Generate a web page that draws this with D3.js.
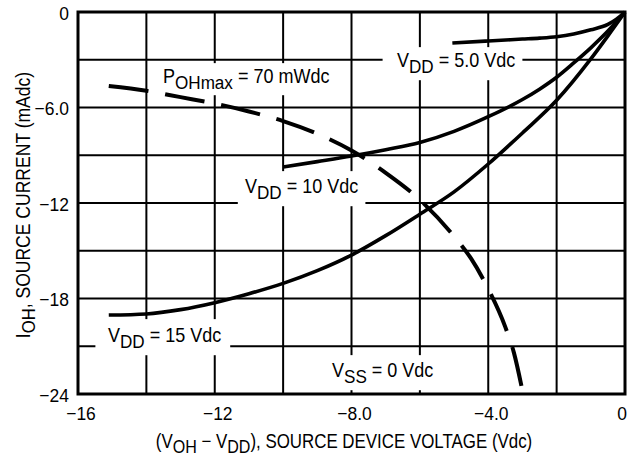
<!DOCTYPE html>
<html>
<head>
<meta charset="utf-8">
<script src="https://cdn.jsdelivr.net/npm/d3@7"></script>
<style>
  body { margin: 0; background: #fff; }
  svg { display: block; }
  text { font-family: "Liberation Sans", Arial, sans-serif; fill: #000; }
</style>
</head>
<body>
<svg id="chart" width="628" height="461"></svg>
<script>
// ---- data ----
const xTicks = [-16, -12, -8, -4, 0];
const xTickLabels = ["\u221216", "\u221212", "\u22128.0", "\u22124.0", "0"];
const yTicks = [0, -6, -12, -18, -24];
const yTickLabels = ["0", "\u22126.0", "\u221212", "\u221218", "\u221224"];

const vdd5X = [-5.05, -4.0, -3.0, -2.5, -2.0, -1.5, -1.0, -0.5, -0.25, 0];
const vdd5Y = [-1.95, -1.82, -1.7, -1.64, -1.55, -1.38, -1.12, -0.78, -0.45, 0];

const vdd10X = [-10.0, -9.0, -8.0, -7.0, -6.0, -5.0, -4.0, -3.0, -2.5, -2.0, -1.5, -1.0, -0.5, 0];
const vdd10Y = [-9.74, -9.4, -9.05, -8.65, -8.2, -7.5, -6.58, -5.5, -4.85, -4.1, -3.2, -2.25, -1.2, 0];

const vdd15X = [-15.1, -14.0, -13.0, -12.0, -11.0, -10.0, -9.0, -8.0, -7.0, -6.0, -5.0, -4.0, -3.0, -2.0, -1.0, -0.5, 0];
const vdd15Y = [-19.04, -18.97, -18.7, -18.26, -17.7, -17.05, -16.25, -15.27, -14.05, -12.7, -11.3, -9.55, -7.6, -5.55, -2.95, -1.5, 0];

const pohX = [-15.1, -14.0, -13.0, -12.0, -11.0, -10.0, -9.0, -8.0, -7.0, -6.0, -5.0, -4.5, -4.0, -3.5, -3.25, -3.0];
const pohY = [-4.65, -4.95, -5.35, -5.75, -6.25, -6.85, -7.65, -8.7, -10.1, -11.8, -14.1, -15.5, -17.4, -19.8, -21.4, -23.8];

// ---- layout ----
const svg = d3.select("#chart");
const L = 78, T = 12, R = 625, B = 394;
const x = d3.scaleLinear().domain([-16, 0]).range([L, R]);
const y = d3.scaleLinear().domain([0, -24]).range([T, B]);

// condensed text helper (the reference face is a condensed grotesque)
function ctext(parent, xp, yp, sx, size, anchor, rot) {
  const g = parent.append("g")
    .attr("transform", `translate(${xp},${yp})` + (rot ? ` rotate(${rot})` : "") + ` scale(${sx},1)`);
  const t = g.append("text").attr("x", 0).attr("y", 0).attr("font-size", size)
    .attr("text-anchor", anchor || "start");
  return {g, t};
}

// grid
const grid = svg.append("g");
grid.selectAll("line.v").data(d3.range(-14, 0, 2)).enter().append("line")
  .attr("x1", d => x(d)).attr("x2", d => x(d)).attr("y1", T).attr("y2", B)
  .attr("stroke", "#000").attr("stroke-width", 2);
grid.selectAll("line.h").data(d3.range(-3, -24, -3)).enter().append("line")
  .attr("y1", d => y(d)).attr("y2", d => y(d)).attr("x1", L).attr("x2", R)
  .attr("stroke", "#000").attr("stroke-width", 2);

// in-plot labels with white background
const labelLayer = svg.append("g");
function label(xp, yp, parts, padL, padR, padT, padB) {
  const {g, t} = ctext(labelLayer, xp, yp, 0.9, 20);
  const rect = g.insert("rect", "text").attr("fill", "#fff");
  parts.forEach(p => {
    const ts = t.append("tspan").text(p.t);
    if (p.sub) ts.attr("dy", 6).attr("font-size", 19);
    if (p.up) ts.attr("dy", -6);
  });
  const bb = t.node().getBBox();
  rect.attr("x", bb.x - padL).attr("y", bb.y - padT)
      .attr("width", bb.width + padL + padR).attr("height", bb.height + padT + padB);
}
label(163, 83, [{t: "P"}, {t: "OHmax", sub: true}, {t: " = 70 mWdc", up: true}], 6, 6, 2, 2);
label(397, 67, [{t: "V"}, {t: "DD", sub: true}, {t: " = 5.0 Vdc", up: true}], 16, 8, 2, 3);
label(245, 193, [{t: "V"}, {t: "DD", sub: true}, {t: " = 10 Vdc", up: true}], 8, 8, 4, 3);
label(108, 342, [{t: "V"}, {t: "DD", sub: true}, {t: " = 15 Vdc", up: true}], 14, 10, 5, 3);
label(332, 377, [{t: "V"}, {t: "SS", sub: true}, {t: " = 0 Vdc", up: true}], 6, 8, 4, 3);

// frame
svg.append("rect").attr("x", L).attr("y", T).attr("width", R - L).attr("height", B - T)
  .attr("fill", "none").attr("stroke", "#000").attr("stroke-width", 3);

// curves
const line = d3.line().x(d => x(d[0])).y(d => y(d[1])).curve(d3.curveMonotoneX);
function curve(xs, ys, dash) {
  const p = svg.append("path").datum(xs.map((v, i) => [v, ys[i]]))
    .attr("d", line).attr("fill", "none").attr("stroke", "#000")
    .attr("stroke-width", dash ? 4 : 3.6).attr("stroke-linejoin", "round");
  if (dash) p.attr("stroke-dasharray", "40 17");
}
curve(vdd5X, vdd5Y, false);
curve(vdd10X, vdd10Y, false);
curve(vdd15X, vdd15Y, false);
curve(pohX, pohY, true);

// axes tick labels
const tickLayer = svg.append("g");
xTicks.forEach((d, i) => {
  const {t} = ctext(tickLayer, x(d) + (d < 0 ? 3 : -3), 420, 0.92, 19, "middle");
  t.text(xTickLabels[i]);
});
yTicks.forEach((d, i) => {
  const {t} = ctext(tickLayer, 69, y(d) + 7.5, 0.92, 19, "end");
  t.text(yTickLabels[i]);
});

// axis titles
const xt = ctext(svg, 344, 448, 0.845, 20, "middle").t;
xt.append("tspan").text("(V");
xt.append("tspan").text("OH").attr("dy", 5).attr("font-size", 19);
xt.append("tspan").text(" \u2212 V").attr("dy", -5);
xt.append("tspan").text("DD").attr("dy", 5).attr("font-size", 19);
xt.append("tspan").text("), SOURCE DEVICE VOLTAGE (Vdc)").attr("dy", -5);

const yt = ctext(svg, 30, 205, 0.878, 20, "middle", -90).t;
yt.append("tspan").text("I");
yt.append("tspan").text("OH").attr("dy", 5).attr("font-size", 19);
yt.append("tspan").text(", SOURCE CURRENT (mAdc)").attr("dy", -5);
</script>
</body>
</html>
